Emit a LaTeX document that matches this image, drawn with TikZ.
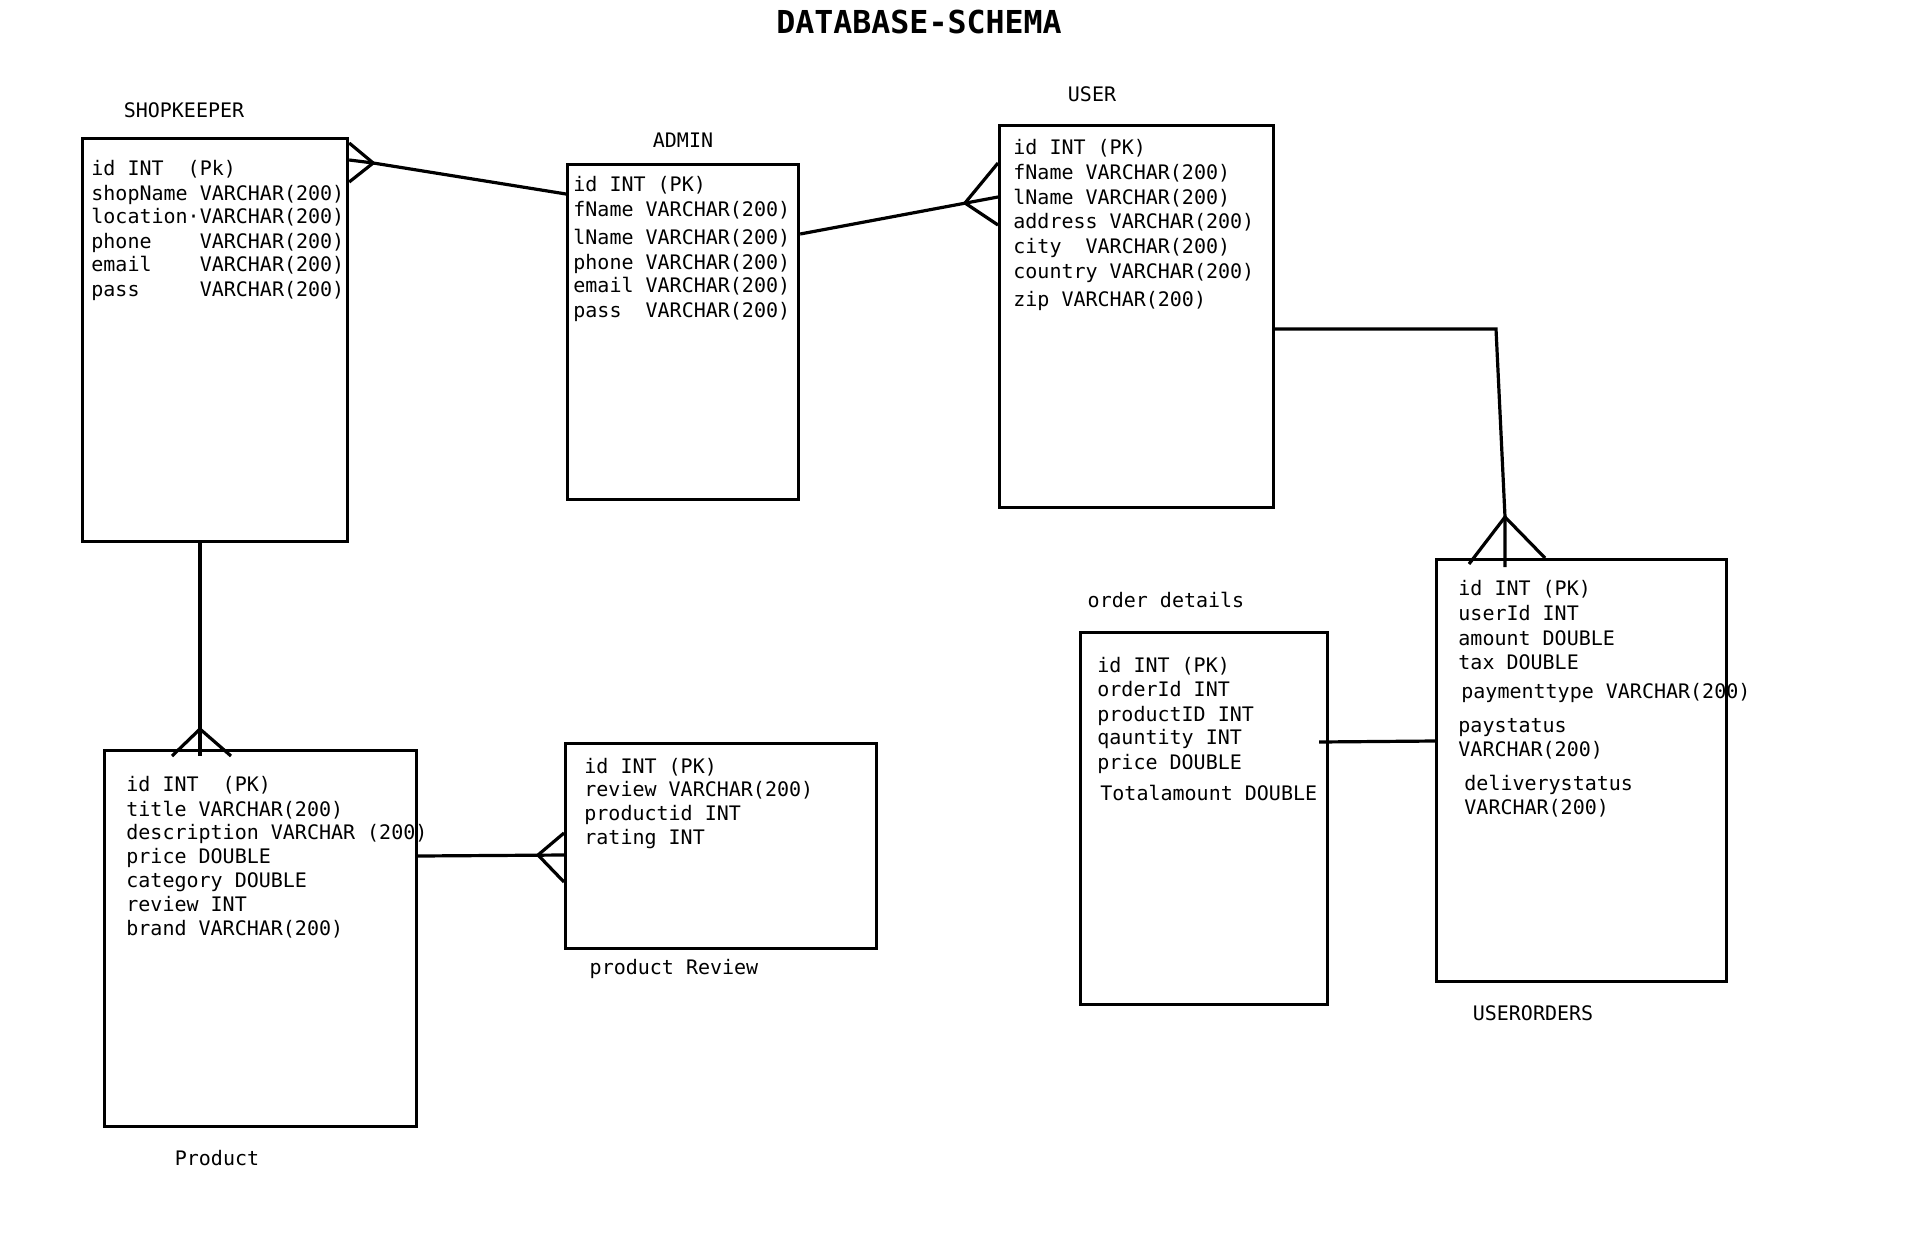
\documentclass[tikz,border=0pt]{standalone}
\usepackage{fontspec}
\setmonofont{DejaVu Sans Mono}
\usetikzlibrary{calc}
\newcommand{\fieldfont}{\fontsize{10pt}{12pt}\selectfont\ttfamily}
\newcommand{\titlefont}{\fontsize{15.8pt}{18pt}\selectfont\ttfamily\bfseries}
\tikzset{
  tbl/.style 2 args={draw, line width=1.6pt, anchor=north west, inner sep=0pt,
    minimum width=#1*0.5pt, minimum height=#2*0.5pt},
  field/.style={anchor=base west, inner sep=0pt, font=\fieldfont},
  tname/.style={anchor=base, inner sep=0pt, font=\fieldfont},
  rel/.style={line width=1.6pt},
}

\begin{document}
\begin{tikzpicture}[x=0.5pt, y=-0.5pt]
  \useasboundingbox (0,0) rectangle (1932,1248);
  \node[inner sep=0pt, font=\titlefont] (title) at (919,22) {DATABASE-SCHEMA};

  \node[tbl={265}{403}] (shop) at (81,137) {};
  \node[tbl={231}{335}] (admin) at (566,163) {};
  \node[tbl={274}{382}] (user) at (998,124) {};
  \node[tbl={290}{422}] (uorders) at (1435,558) {};
  \node[tbl={247}{372}] (odetails) at (1079,631) {};
  \node[tbl={312}{376}] (product) at (103,749) {};
  \node[tbl={311}{205}] (review) at (564,742) {};

  \node[tname] (shop-name) at (184,117) {SHOPKEEPER};
  \node[tname] (admin-name) at (683,147) {ADMIN};
  \node[tname] (user-name) at (1092,101) {USER};
  \node[tname] (uorders-name) at (1533,1020) {USERORDERS};
  \node[tname] (odetails-name) at (1166,607) {order details};
  \node[tname] (product-name) at (217,1165) {Product};
  \node[tname] (review-name) at (674,974) {product Review};

  \foreach \dy/\txt [count=\i] in {38/{id~INT~~(Pk)}, 63/{shopName~VARCHAR(200)},
      86/{location·VARCHAR(200)}, 111/{phone~~~~VARCHAR(200)},
      134/{email~~~~VARCHAR(200)}, 159/{pass~~~~~VARCHAR(200)}}{%
    \node[field] (shop-\i) at ($(shop.north west)+(10,\dy)$) {\txt};}
  \foreach \dy/\txt [count=\i] in {28/{id~INT~(PK)}, 53/{fName~VARCHAR(200)},
      81/{lName~VARCHAR(200)}, 106/{phone~VARCHAR(200)},
      129/{email~VARCHAR(200)}, 154/{pass~~VARCHAR(200)}}{%
    \node[field] (admin-\i) at ($(admin.north west)+(7,\dy)$) {\txt};}
  \foreach \dy/\txt [count=\i] in {30/{id~INT~(PK)}, 55/{fName~VARCHAR(200)},
      80/{lName~VARCHAR(200)}, 104/{address~VARCHAR(200)},
      129/{city~~VARCHAR(200)}, 154/{country~VARCHAR(200)}, 182/{zip~VARCHAR(200)}}{%
    \node[field] (user-\i) at ($(user.north west)+(15,\dy)$) {\txt};}
  \foreach \dx/\dy/\txt [count=\i] in {23/37/{id~INT~(PK)}, 23/62/{userId~INT},
      23/87/{amount~DOUBLE}, 23/111/{tax~DOUBLE}, 26/140/{paymenttype~VARCHAR(200)},
      23/174/{paystatus}, 23/198/{VARCHAR(200)}, 29/232/{deliverystatus},
      29/256/{VARCHAR(200)}}{%
    \node[field] (uorders-\i) at ($(uorders.north west)+(\dx,\dy)$) {\txt};}
  \foreach \dx/\dy/\txt [count=\i] in {18/41/{id~INT~(PK)}, 18/65/{orderId~INT},
      18/90/{productID~INT}, 18/113/{qauntity~INT}, 18/138/{price~DOUBLE},
      21/169/{Totalamount~DOUBLE}}{%
    \node[field] (odetails-\i) at ($(odetails.north west)+(\dx,\dy)$) {\txt};}
  \foreach \dy/\txt [count=\i] in {42/{id~INT~~(PK)}, 67/{title~VARCHAR(200)},
      90/{description~VARCHAR~(200)}, 114/{price~DOUBLE}, 138/{category~DOUBLE},
      162/{review~INT}, 186/{brand~VARCHAR(200)}}{%
    \node[field] (product-\i) at ($(product.north west)+(23,\dy)$) {\txt};}
  \foreach \dy/\txt [count=\i] in {31/{id~INT~(PK)}, 54/{review~VARCHAR(200)},
      78/{productid~INT}, 102/{rating~INT}}{%
    \node[field] (review-\i) at ($(review.north west)+(20,\dy)$) {\txt};}

  % shopkeeper -- admin
  \coordinate (sa-foot) at ($(shop.north east)+(24,26)$);
  \draw[rel] ($(admin.north west)+(0,31)$) -- (sa-foot);
  \draw[rel] ($(shop.north east)+(0,6)$) -- (sa-foot) -- ($(shop.north east)+(0,45)$);
  \draw[rel] ($(shop.north east)+(0,23)$) -- (sa-foot);
  % admin -- user
  \coordinate (au-foot) at ($(user.north west)+(-33,79)$);
  \draw[rel] ($(admin.north east)+(0,71)$) -- ($(user.north west)+(0,73)$);
  \draw[rel] ($(user.north west)+(0,39)$) -- (au-foot) -- ($(user.north west)+(0,101)$);
  % user -- userorders
  \coordinate (uu-bend) at ($(uorders.north west)+(61,-229)$);
  \coordinate (uu-foot) at ($(uorders.north west)+(70,-41)$);
  \draw[rel] ($(user.north east)+(0,205)$) -- (uu-bend) -- (uu-foot)
    -- ($(uorders.north west)+(70,9)$);
  \draw[rel] ($(uorders.north west)+(34,6)$) -- (uu-foot) -- ($(uorders.north west)+(110,0)$);
  % shopkeeper -- product
  \coordinate (sp-foot) at ($(product.north west)+(97,-20)$);
  \draw[rel] ($(shop.south west)+(119,0)$) -- ($(product.north west)+(97,7)$);
  \draw[rel] ($(product.north west)+(69,7)$) -- (sp-foot) -- ($(product.north west)+(128,7)$);
  % product -- review
  \coordinate (pr-foot) at ($(review.north west)+(-26,113)$);
  \draw[rel] ($(product.north east)+(0,107)$) -- ($(review.north west)+(0,113)$);
  \draw[rel] ($(review.north west)+(0,91)$) -- (pr-foot) -- ($(review.north west)+(0,140)$);
  % order details -- userorders
  \draw[rel] ($(odetails.north east)+(-10,111)$) -- ($(uorders.north west)+(0,183)$);
\end{tikzpicture}
\end{document}
